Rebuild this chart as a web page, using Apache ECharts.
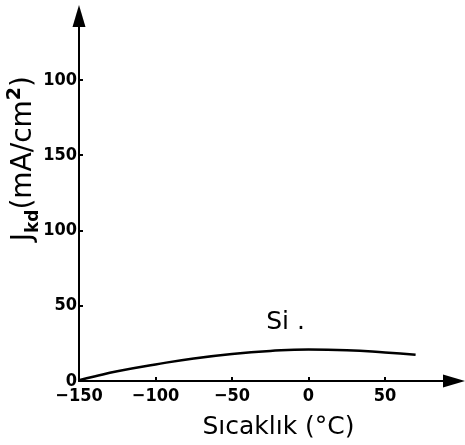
<!DOCTYPE html>
<html>
<head>
<meta charset="utf-8">
<script src="https://cdn.jsdelivr.net/npm/echarts@6/dist/echarts.min.js"></script>
<style>html,body{margin:0;padding:0;background:#fff}#c{width:465px;height:445px}</style>
</head>
<body>
<div id="c"></div>
<script>
// Data
var temperature = [-150, -140, -125, -100, -75, -50, -25, 0, 25, 50, 70];
var currentDensity = [0.5, 3, 6.5, 11, 15, 18, 20, 21, 20.5, 19, 17.5];
var xTickValues = [-150, -100, -50, 0, 50];
var xTickLabels = ['\u2212150', '\u2212100', '\u221250', '0', '50'];
var yTickValues = [0, 50, 100, 150, 200];
var yTickLabels = ['0', '50', '100', '150', '100'];
var seriesLabel = 'Si .';
var seriesLabelAt = [-15, 39];

var chart = echarts.init(document.getElementById('c'), null, {renderer: 'canvas'});
var font = '"DejaVu Sans Condensed", "DejaVu Sans", sans-serif';
chart.setOption({
  animation: false,
  backgroundColor: '#fff',
  grid: {left: 79, right: 11, top: 16, bottom: 64},
  xAxis: {
    type: 'value', min: -150, max: 95.1, interval: 50,
    splitLine: {show: false},
    axisLine: {show: true, onZero: false, lineStyle: {color: '#000', width: 2},
      symbol: ['none', 'triangle'], symbolSize: [13, 22]},
    axisTick: {show: true, inside: true, length: 4, customValues: xTickValues, lineStyle: {color: '#000', width: 2}},
    axisLabel: {customValues: xTickValues, margin: 6, color: '#000', fontFamily: font, fontWeight: 'bold', fontSize: 18,
      formatter: function (v) { var i = xTickValues.indexOf(v); return i >= 0 ? xTickLabels[i] : ''; }},
    name: 'S\u0131cakl\u0131k (\u00B0C)', nameLocation: 'middle', nameGap: 34,
    nameTextStyle: {color: '#000', fontFamily: '"DejaVu Sans", sans-serif', fontSize: 25, padding: [0, 0, 0, 24]}
  },
  yAxis: {
    type: 'value', min: 0, max: 242.5, interval: 50,
    splitLine: {show: false},
    axisLine: {show: true, onZero: false, lineStyle: {color: '#000', width: 2},
      symbol: ['none', 'triangle'], symbolSize: [13, 22]},
    axisTick: {show: true, inside: true, length: 4, customValues: yTickValues, lineStyle: {color: '#000', width: 2}},
    axisLabel: {customValues: yTickValues, margin: 2, color: '#000', fontFamily: font, fontWeight: 'bold', fontSize: 18,
      formatter: function (v) { var i = yTickValues.indexOf(v); return i >= 0 ? yTickLabels[i] : ''; }}
  },
  graphic: [{
    type: 'text', x: 6, y: 76, rotation: Math.PI / 2,
    style: {
      text: '{m|J}{sub|kd}{m|(mA/cm}{sup|2}{m|)}',
      fill: '#000', align: 'right', verticalAlign: 'top',
      rich: {
        m: {fontSize: 28, lineHeight: 36, fontFamily: '"DejaVu Sans", sans-serif', verticalAlign: 'middle'},
        sub: {fontSize: 17, lineHeight: 36, fontWeight: 'bold', verticalAlign: 'bottom', fontFamily: '"DejaVu Sans", sans-serif'},
        sup: {fontSize: 19, lineHeight: 36, fontWeight: 'bold', verticalAlign: 'top', fontFamily: '"DejaVu Sans", sans-serif'}
      }
    }
  }],
  series: [{
    type: 'line', smooth: true, symbol: 'none',
    data: temperature.map(function (t, i) { return [t, currentDensity[i]]; }),
    lineStyle: {color: '#000', width: 2.5},
    markPoint: {
      symbol: 'circle', symbolSize: 0,
      data: [{coord: seriesLabelAt}],
      label: {show: true, position: 'inside', formatter: seriesLabel, color: '#000', fontSize: 25,
        fontFamily: '"DejaVu Sans", sans-serif'}
    }
  }]
});
</script>
</body>
</html>
